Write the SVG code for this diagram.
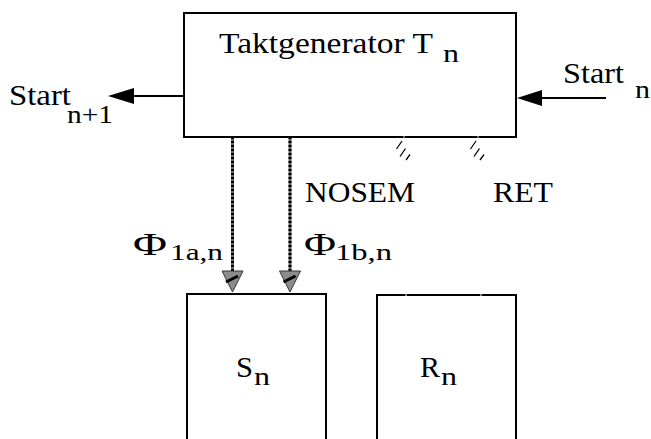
<svg xmlns="http://www.w3.org/2000/svg" width="651" height="439" viewBox="0 0 651 439" font-family="'Liberation Serif', 'Times New Roman', serif">
<style>
  .box { fill: #fff; stroke: #000; stroke-width: 2; }
  .open { fill: none; stroke: #000; stroke-width: 2; }
  text { font-family: 'Liberation Serif', 'Times New Roman', serif; fill: #000; }
  .big { font-size: 29px; }
  .sub { font-size: 25px; }
  .line { stroke: #000; stroke-width: 2; fill: none; }
  .bus { stroke: #666; stroke-width: 3; fill: none; }
  .busdash { stroke: #000; stroke-width: 3; stroke-dasharray: 2 2; fill: none; }
  .head { fill: #8c8c8c; stroke: #333; stroke-width: 1; }
  .hatch { stroke: #000; stroke-width: 1.3; }
</style>
<rect width="651" height="439" fill="#fff"/>

<g id="taktgenerator">
  <rect class="box" x="184" y="13" width="332" height="124"/>
  <text class="big" x="219" y="53" textLength="214" lengthAdjust="spacingAndGlyphs">Taktgenerator T</text>
  <text class="sub" x="443" y="62" textLength="16" lengthAdjust="spacingAndGlyphs">n</text>
</g>

<g id="S">
  <path class="open" d="M187,440 V294 H326 V440"/>
  <text class="big" x="236" y="377" textLength="17" lengthAdjust="spacingAndGlyphs">S</text>
  <text class="sub" x="254" y="385" textLength="16" lengthAdjust="spacingAndGlyphs">n</text>
</g>

<g id="R">
  <path class="open" d="M377,440 V295 H516 V440"/>
  <rect x="405.5" y="293.5" width="1" height="3" fill="#fff"/>
  <rect x="480.5" y="293.5" width="1" height="3" fill="#fff"/>
  <text class="big" x="420" y="377" textLength="20" lengthAdjust="spacingAndGlyphs">R</text>
  <text class="sub" x="441" y="385" textLength="16" lengthAdjust="spacingAndGlyphs">n</text>
</g>

<g id="connectors">
  <line class="line" x1="184" y1="96" x2="132" y2="96"/>
  <polygon points="108,96 134,88 134,104" fill="#000"/>
  <line class="line" x1="606" y1="98" x2="540" y2="98"/>
  <polygon points="517,98 542,90 542,106" fill="#000"/>
  <line class="bus" x1="232.5" y1="137" x2="232.5" y2="273"/>
  <line class="busdash" x1="232.5" y1="137" x2="232.5" y2="273"/>
  <polygon class="head" points="222,271 243,271 232.5,292"/>
  <line x1="226" y1="282" x2="238" y2="276" stroke="#000" stroke-width="3"/>
  <line class="bus" x1="290" y1="137" x2="290" y2="273"/>
  <line class="busdash" x1="290" y1="137" x2="290" y2="273"/>
  <polygon class="head" points="279.5,271 300.5,271 290,292"/>
  <line x1="283.5" y1="282" x2="295.5" y2="276" stroke="#000" stroke-width="3"/>
  <g id="hatch1">
    <line class="hatch" x1="402" y1="141" x2="396.5" y2="149"/>
    <line class="hatch" x1="405.5" y1="148.5" x2="400" y2="156.5"/>
    <line class="hatch" x1="410" y1="154.5" x2="406" y2="160"/>
    <rect x="403.5" y="136" width="1" height="2" fill="#ccc"/>
  </g>
  <g id="hatch2">
    <line class="hatch" x1="476" y1="141" x2="470.5" y2="149"/>
    <line class="hatch" x1="479.5" y1="148.5" x2="474" y2="156.5"/>
    <line class="hatch" x1="484" y1="154.5" x2="480" y2="160"/>
    <rect x="477.5" y="136" width="1" height="2" fill="#ccc"/>
  </g>
</g>

<g id="labels">
  <text class="big" x="9" y="105" textLength="62" lengthAdjust="spacingAndGlyphs">Start</text>
  <text class="sub" x="67" y="123" textLength="46" lengthAdjust="spacingAndGlyphs">n+1</text>
  <text class="big" x="563" y="83" textLength="61" lengthAdjust="spacingAndGlyphs">Start</text>
  <text class="sub" x="635" y="98" textLength="15" lengthAdjust="spacingAndGlyphs">n</text>
  <text class="big" x="305" y="202" textLength="110" lengthAdjust="spacingAndGlyphs">NOSEM</text>
  <text class="big" x="493" y="202" textLength="60" lengthAdjust="spacingAndGlyphs">RET</text>
  <text font-size="31" x="133" y="255" textLength="34" lengthAdjust="spacingAndGlyphs">Φ</text>
  <text font-size="23" x="170" y="260" textLength="53" lengthAdjust="spacingAndGlyphs">1a,n</text>
  <text font-size="31" x="304" y="255" textLength="32" lengthAdjust="spacingAndGlyphs">Φ</text>
  <text font-size="23" x="335" y="260" textLength="57" lengthAdjust="spacingAndGlyphs">1b,n</text>
</g>
</svg>
